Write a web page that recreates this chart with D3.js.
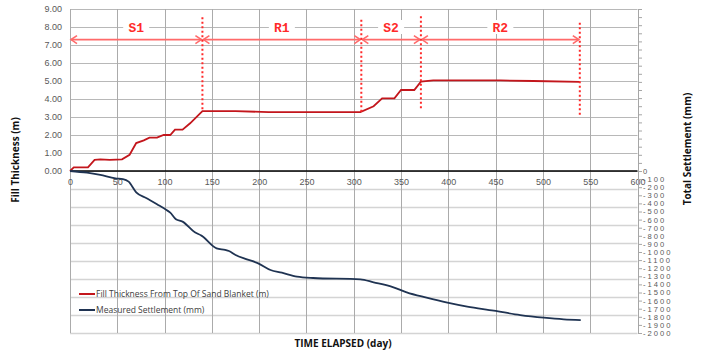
<!DOCTYPE html>
<html>
<head>
<meta charset="utf-8">
<script src="https://cdn.jsdelivr.net/npm/d3@7"></script>
<style>
  body { margin: 0; background: #fff; }
  svg { display: block; font-family: "Open Sans", "Liberation Sans", sans-serif; }
  .tick text { fill: #595959; }
</style>
</head>
<body>
<svg id="chart" width="702" height="352"></svg>
<script>
// fill thickness from top of sand blanket (m)
var fillDays   = [0, 4, 19, 26, 32, 42, 55, 63, 70, 78, 84, 92, 99, 106, 111, 119, 127, 140,
                  150, 175, 210, 260, 307, 321, 330, 343, 350, 364, 371, 384, 455, 490, 539];
var fillValues = [0, 0.2, 0.2, 0.62, 0.65, 0.62, 0.65, 0.9, 1.55, 1.7, 1.85, 1.85, 2.0, 2.0, 2.3, 2.3, 2.65, 3.33,
                  3.33, 3.33, 3.27, 3.27, 3.27, 3.6, 4.04, 4.04, 4.5, 4.5, 4.96, 5.04, 5.03, 5.0, 4.95];

// measured settlement (mm)
var settleDays   = [0, 18, 32, 48, 56, 62, 70, 81, 92, 102, 106, 112, 119, 132, 139, 155, 164, 168, 175,
                    187, 199, 212, 224, 240, 257, 307, 321, 342, 356, 377, 399, 420, 448, 476, 501, 522, 540];
var settleValues = [0, -21, -49, -90, -99, -132, -263, -337, -411, -481, -514, -596, -625, -757, -798, -955, -975, -988, -1037,
                    -1090, -1140, -1222, -1255, -1305, -1321, -1337, -1374, -1436, -1498, -1564, -1626, -1675, -1724, -1778, -1811, -1831, -1840];

// stage / rest periods
var phaseBounds  = [0, 140, 308, 371, 539];
var phaseLabels  = ["S1", "R1", "S2", "R2"];
var markerDays   = [140, 308, 371, 539];
var markerTops   = [8.54, 8.4, 8.6, 8.24];
var markerBottoms = [3.33, 3.27, 3.4, 3.05];

var xTicks = d3.range(0, 601, 50);
var leftTicks = d3.range(0, 10, 1);
var rightTicks = d3.range(-2000, 1, 100);

var legendLabels = ["Fill Thickness From Top Of Sand Blanket (m)", "Measured Settlement (mm)"];
var red = "#c3161c", navy = "#1f3352", markRed = "#ff2a2a";

var svg = d3.select("#chart");

var x = d3.scaleLinear().domain([0, 600]).range([70, 637.5]);
var yL = d3.scaleLinear().domain([-9, 9]).range([333, 9]);
var yR = d3.scaleLinear().domain([-2000, 2000]).range([333, 9]);

// grid
var grid = svg.append("g");
grid.selectAll("line.h").data(d3.range(-9, 10)).enter().append("line")
    .attr("x1", x(0)).attr("x2", x(600))
    .attr("y1", function(d) { return yL(d) + 0.5; })
    .attr("y2", function(d) { return yL(d) + 0.5; })
    .attr("stroke", function(d) { return d < 0 ? "#d4d4d4" : "#b8b8b8"; })
    .attr("stroke-width", function(d) { return d < 0 ? 1.6 : 1; });
grid.selectAll("line.v").data(xTicks).enter().append("line")
    .attr("x1", function(d) { return Math.round(x(d)) + 0.5; })
    .attr("x2", function(d) { return Math.round(x(d)) + 0.5; })
    .attr("y1", yL(9)).attr("y2", yL(-9))
    .attr("stroke", "#ababab").attr("stroke-width", 1);

// zero line
svg.append("line")
    .attr("x1", x(0)).attr("x2", x(600))
    .attr("y1", yL(0)).attr("y2", yL(0))
    .attr("stroke", "#000").attr("stroke-width", 1.6);

// axes
var xAxis = svg.append("g").attr("transform", "translate(0," + (yL(0) + 2) + ")")
    .call(d3.axisBottom(x).tickValues(xTicks).tickSize(0).tickPadding(6));
xAxis.select(".domain").remove();
xAxis.selectAll("text").attr("font-size", 9);

var leftAxis = svg.append("g").attr("transform", "translate(" + x(0) + ",0)")
    .call(d3.axisLeft(yL).tickValues(leftTicks).tickFormat(d3.format(".2f")).tickSize(0).tickPadding(8));
leftAxis.select(".domain").remove();
leftAxis.selectAll("text").attr("font-size", 9);

var rightAxis = svg.append("g").attr("transform", "translate(" + Math.round(x(600)) + ",0)")
    .call(d3.axisRight(yR).tickValues(d3.range(-2000, 2001, 100)).tickSize(4).tickPadding(1)
        .tickFormat(function(d) { return rightTicks.indexOf(d) >= 0 ? d : ""; }));
rightAxis.select(".domain").attr("stroke", "#a6a6a6");
rightAxis.selectAll("line").attr("stroke", "#a6a6a6");
rightAxis.selectAll("text").attr("font-size", 7.6).attr("letter-spacing", 2).attr("fill", "#555");

// axis titles
svg.append("text").attr("transform", "translate(19,160) rotate(-90)")
    .attr("text-anchor", "middle").attr("font-weight", "bold").attr("font-size", 10).attr("fill", "#111")
    .text("Fill Thickness (m)");
svg.append("text").attr("transform", "translate(691,149) rotate(-90)")
    .attr("text-anchor", "middle").attr("font-weight", "bold").attr("font-size", 10).attr("fill", "#111")
    .text("Total Settlement (mm)");
svg.append("text").attr("x", 343).attr("y", 347)
    .attr("text-anchor", "middle").attr("font-weight", "bold").attr("font-size", 10).attr("fill", "#111")
    .text("TIME ELAPSED  (day)");

// series
var fillLine = d3.line().x(function(d) { return x(d[0]); }).y(function(d) { return yL(d[1]); });
var settleLine = d3.line().x(function(d) { return x(d[0]); }).y(function(d) { return yR(d[1]); }).curve(d3.curveMonotoneX);

svg.append("path").datum(d3.zip(fillDays, fillValues))
    .attr("d", fillLine).attr("fill", "none").attr("stroke", red).attr("stroke-width", 1.8);
svg.append("path").datum(d3.zip(settleDays, settleValues))
    .attr("d", settleLine).attr("fill", "none").attr("stroke", navy).attr("stroke-width", 1.8);

// phase arrows
var arrowY = yL(7.3);
var phases = d3.range(phaseLabels.length).map(function(i) {
    return { a: phaseBounds[i], b: phaseBounds[i + 1], label: phaseLabels[i] };
});
var ar = svg.append("g").attr("stroke", "#ff6a6a").attr("fill", "none").attr("stroke-width", 1.6);
phases.forEach(function(p) {
    var xa = x(p.a) + 1, xb = x(p.b) - 1;
    ar.append("line").attr("x1", xa).attr("x2", xb).attr("y1", arrowY).attr("y2", arrowY);
    ar.append("path").attr("d", "M" + (xa + 6) + "," + (arrowY - 4) + "L" + xa + "," + arrowY + "L" + (xa + 6) + "," + (arrowY + 4));
    ar.append("path").attr("d", "M" + (xb - 6) + "," + (arrowY - 4) + "L" + xb + "," + arrowY + "L" + (xb - 6) + "," + (arrowY + 4));
});

// phase markers
svg.selectAll("line.mark").data(markerDays).enter().append("line")
    .attr("x1", function(d) { return x(d); }).attr("x2", function(d) { return x(d); })
    .attr("y1", function(d, i) { return yL(markerTops[i]); })
    .attr("y2", function(d, i) { return yL(markerBottoms[i]); })
    .attr("stroke", markRed).attr("stroke-width", 2).attr("stroke-dasharray", "2,2.5");

// phase labels
var lab = svg.selectAll("g.lab").data(phases).enter().append("g")
    .attr("transform", function(p) { return "translate(" + x((p.a + p.b) / 2) + "," + yL(8) + ")"; });
lab.append("rect").attr("x", -13).attr("y", -7).attr("width", 26).attr("height", 14).attr("fill", "#fff");
lab.append("text").attr("text-anchor", "middle").attr("dy", "0.36em")
    .attr("font-family", "'Liberation Mono', 'DejaVu Sans Mono', monospace")
    .attr("font-weight", "bold").attr("font-size", 13).attr("fill", markRed)
    .text(function(p) { return p.label; });

// legend
var leg = svg.selectAll("g.leg").data(legendLabels).enter().append("g")
    .attr("transform", function(d, i) { return "translate(79," + (294 + i * 16) + ")"; });
leg.append("line").attr("x1", 0).attr("x2", 16)
    .attr("stroke", function(d, i) { return i === 0 ? red : navy; }).attr("stroke-width", 2);
leg.append("text").attr("x", 17).attr("dy", "0.35em").attr("font-size", 8.5).attr("fill", "#404040")
    .text(function(d) { return d; });
</script>
</body>
</html>
